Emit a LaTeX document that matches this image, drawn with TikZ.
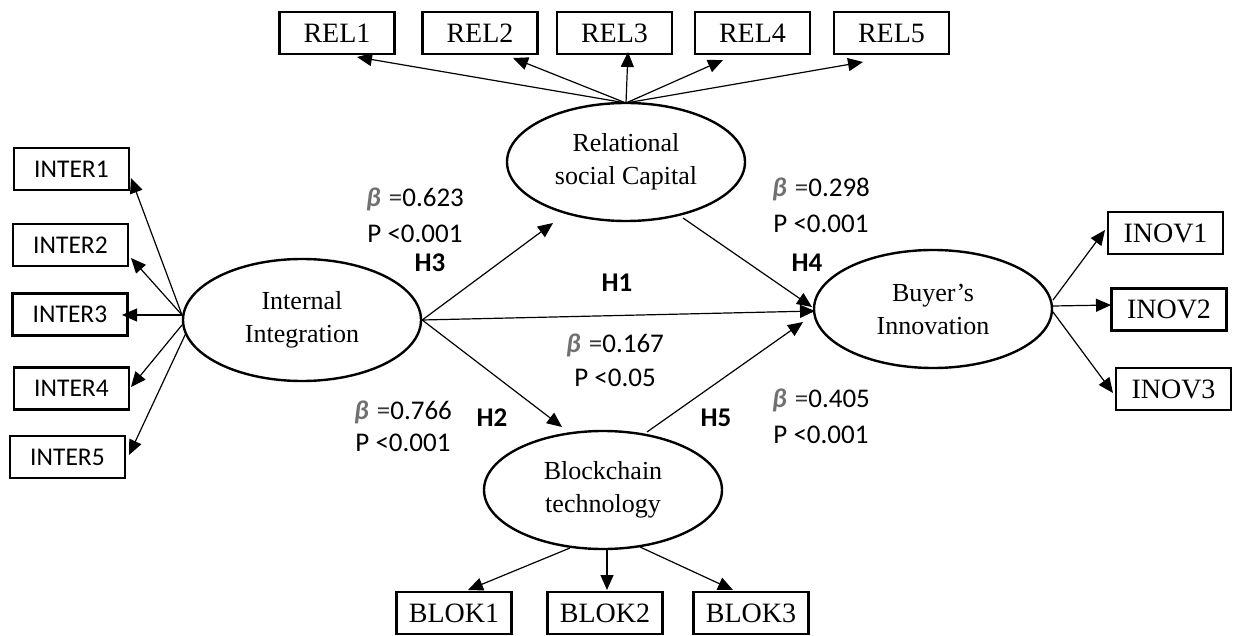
\documentclass[tikz,border=0pt]{standalone}
\usepackage{fontspec}
\setmainfont{Liberation Serif}
\newfontfamily\calfont{Carlito}
\usetikzlibrary{arrows.meta,shapes.geometric,calc}
\definecolor{bgray}{RGB}{112,112,112}
\newcommand{\bq}{\textcolor{bgray}{\bfseries\itshape β}\hspace{0.3em}\textcolor{bgray!50!black}{=}}
\begin{document}
\begin{tikzpicture}[x=1pt,y=-1pt,
  construct/.style={ellipse,draw,line width=2.4pt,minimum width=238pt,minimum height=118pt,inner sep=0pt,align=center,font=\fontsize{26}{33}\selectfont},
  ind/.style={rectangle,draw,line width=2.4pt,minimum width=115pt,minimum height=42pt,inner sep=0pt,font=\fontsize{28}{30}\selectfont},
  indc/.style={ind,font=\calfont\fontsize{25.5}{28}\selectfont},
  arr/.style={-{Triangle[length=15pt,width=13pt]},line width=1.2pt},
  lab/.style={align=center,font=\calfont\fontsize{27}{36}\selectfont},
  hyp/.style={font=\calfont\bfseries\fontsize{27}{30}\selectfont}]
\useasboundingbox (0,0) rectangle (1234,636);

% constructs
\node[construct] (RSC) at (626,162) {Relational\\social Capital};
\node[construct, minimum height=122pt] (II) at (302,320) {Internal\\Integration};
\node[construct] (BI) at (933,309) {Buyer’s\\Innovation};
\node[construct] (BT) at (603,490) {Blockchain\\technology};

% indicators
\node[ind] (R1) at (337,33) {REL1};
\node[ind] (R2) at (480,33) {REL2};
\node[ind] (R3) at (614.5,33) {REL3};
\node[ind] (R4) at (752.5,33) {REL4};
\node[ind] (R5) at (891.5,33) {REL5};

\node[indc] (I1) at (71.5,169) {INTER1};
\node[indc] (I2) at (70.5,245) {INTER2};
\node[indc] (I3) at (70,314.5) {INTER3};
\node[indc] (I4) at (71.5,388.5) {INTER4};
\node[indc] (I5) at (67.5,457) {INTER5};

\node[ind] (B1) at (454,613) {BLOK1};
\node[ind] (B2) at (605,613) {BLOK2};
\node[ind] (B3) at (751,613) {BLOK3};

\node[ind] (N1) at (1165.5,233) {INOV1};
\node[ind] (N2) at (1169,309.5) {INOV2};
\node[ind] (N3) at (1173.5,389) {INOV3};

% measurement arrows
\draw[arr] ($(RSC.center)+(0,-59)$) -- ($(R1.center)+(20,24)$);
\draw[arr] ($(RSC.center)+(0,-59)$) -- ($(R2.center)+(33,25)$);
\draw[arr] ($(RSC.center)+(0,-59)$) -- ($(R3.center)+(13.5,19)$);
\draw[arr] ($(RSC.center)+(0,-59)$) -- ($(R4.center)+(-29.5,27)$);
\draw[arr] ($(RSC.center)+(0,-59)$) -- ($(R5.center)+(-28.5,29)$);

\draw[arr] ($(II.center)+(-120,-5)$) -- ($(I1.center)+(59.5,9)$);
\draw[arr] ($(II.center)+(-120,-5)$) -- ($(I2.center)+(60.5,13)$);
\draw[arr] ($(II.center)+(-120,-5)$) -- ($(I3.center)+(52,0.5)$);
\draw[arr] ($(II.center)+(-120,5)$) -- ($(I4.center)+(59.5,-1.5)$);
\draw[arr] ($(II.center)+(-116,13)$) -- ($(I5.center)+(61.5,-2)$);

\draw[arr] ($(BT.center)+(-33,58)$) -- ($(B1.center)+(14,-23)$);
\draw[arr] ($(BT.center)+(4,60)$) -- ($(B2.center)+(2,-23)$);
\draw[arr] ($(BT.center)+(37,57)$) -- ($(B3.center)+(-18,-23)$);

\draw[arr] ($(BI.center)+(120,-9)$) -- ($(N1.center)+(-60.5,-3)$);
\draw[arr] ($(BI.center)+(120,-3)$) -- ($(N2.center)+(-58,-4.5)$);
\draw[arr] ($(BI.center)+(120,3)$) -- ($(N3.center)+(-60.5,4)$);

% structural arrows
\draw[arr] (II.east) -- ($(RSC.center)+(-73,61)$);
\draw[arr] (II.east) -- ($(BI.center)+(-118,2)$);
\draw[arr] (II.east) -- ($(BT.center)+(-41,-63)$);
\draw[arr] ($(RSC.center)+(57,56)$) -- ($(BI.center)+(-121,-2)$);
\draw[arr] ($(BT.center)+(44,-58)$) -- ($(BI.center)+(-130,13)$);

% labels
\node[lab] (L1) at (415,215) {\bq0.623\\P <0.001};
\node[lab] (L2) at (821,205) {\bq0.298\\P <0.001};
\node[lab,font=\calfont\fontsize{27}{34}\selectfont] (L3) at (615,360) {\bq0.167\\P <0.05};
\node[lab,font=\calfont\fontsize{27}{32}\selectfont] (L4) at (403,426) {\bq0.766\\P <0.001};
\node[lab] (L5) at (821,416) {\bq0.405\\P <0.001};

\node[hyp] (H3) at (430,263) {H3};
\node[hyp] (H1) at (617,283) {H1};
\node[hyp] (H4) at (807,263) {H4};
\node[hyp] (H2) at (492,418) {H2};
\node[hyp] (H5) at (716,418) {H5};
\end{tikzpicture}
\end{document}
